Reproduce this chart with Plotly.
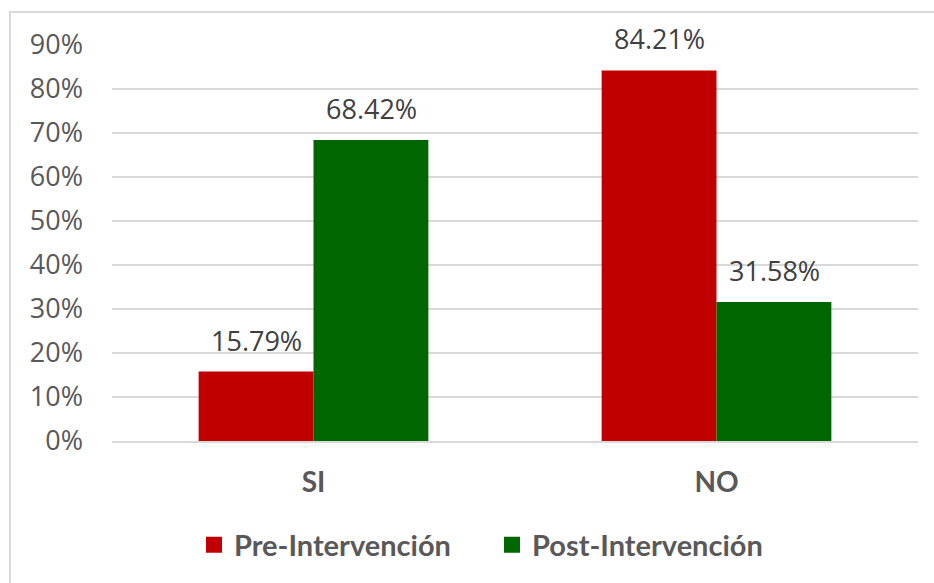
import plotly.graph_objects as go

categorias = ["SI", "NO"]
pre_intervencion = [0.1579, 0.8421]
post_intervencion = [0.6842, 0.3158]
series = ["Pre-Intervención", "Post-Intervención"]
colores = ["#C00000", "#006600"]

fig = go.Figure()
for nombre, valores, color in zip(series, [pre_intervencion, post_intervencion], colores):
    fig.add_trace(go.Bar(
        name=nombre,
        x=categorias,
        y=valores,
        marker=dict(color=color, line=dict(width=0)),
        showlegend=False,
    ))

# legend entries with larger square swatches
for nombre, color in zip(series, colores):
    fig.add_trace(go.Scatter(
        name=nombre, x=[None], y=[None], mode="markers",
        marker=dict(symbol="square", size=18, color=color),
        showlegend=True,
    ))

# value labels above each bar (group offset of half a bar width)
offsets = [-57.5, 57.5]
for valores, dx in zip([pre_intervencion, post_intervencion], offsets):
    for cat, v in zip(categorias, valores):
        fig.add_annotation(
            x=cat, y=v, xshift=dx, yshift=11,
            text=f"{v*100:.2f}%", showarrow=False,
            yanchor="bottom", xanchor="center",
            font=dict(family="Open Sans", size=27, color="#404040"),
        )

# light frame around the chart area
fig.add_shape(
    type="rect", xref="paper", yref="paper",
    x0=-0.1266, x1=1.2, y0=-0.5, y1=1.0833,
    line=dict(color="#D9D9D9", width=2), fillcolor="rgba(0,0,0,0)", layer="below",
)

fig.update_layout(
    width=934, height=583,
    margin=dict(l=112, r=16, t=45, b=142),
    paper_bgcolor="white", plot_bgcolor="white",
    barmode="group", bargap=0.43, bargroupgap=0,
    showlegend=True,
    legend=dict(
        orientation="h", xref="container", yref="container",
        x=194 / 934, xanchor="left", y=1 - 545 / 583, yanchor="middle",
        font=dict(family="Lato", size=29, color="#595959", weight="bold"),
        itemwidth=30, itemsizing="trace", traceorder="normal",
        entrywidth=253, entrywidthmode="pixels",
        bgcolor="rgba(0,0,0,0)",
    ),
    yaxis=dict(
        range=[0, 0.9], dtick=0.1, tickformat=".0%",
        showgrid=True, gridcolor="#D9D9D9", gridwidth=1.5,
        zeroline=False, showline=False, automargin=False,
        tickfont=dict(family="Open Sans", size=27, color="#595959"),
        ticklabelstandoff=28,
    ),
    xaxis=dict(
        showline=True, linecolor="#D9D9D9", linewidth=2,
        showgrid=False, automargin=False,
        tickfont=dict(family="Lato", size=28, color="#595959", weight="bold"),
        ticklabelstandoff=15,
    ),
)

fig.write_html("out.html")
